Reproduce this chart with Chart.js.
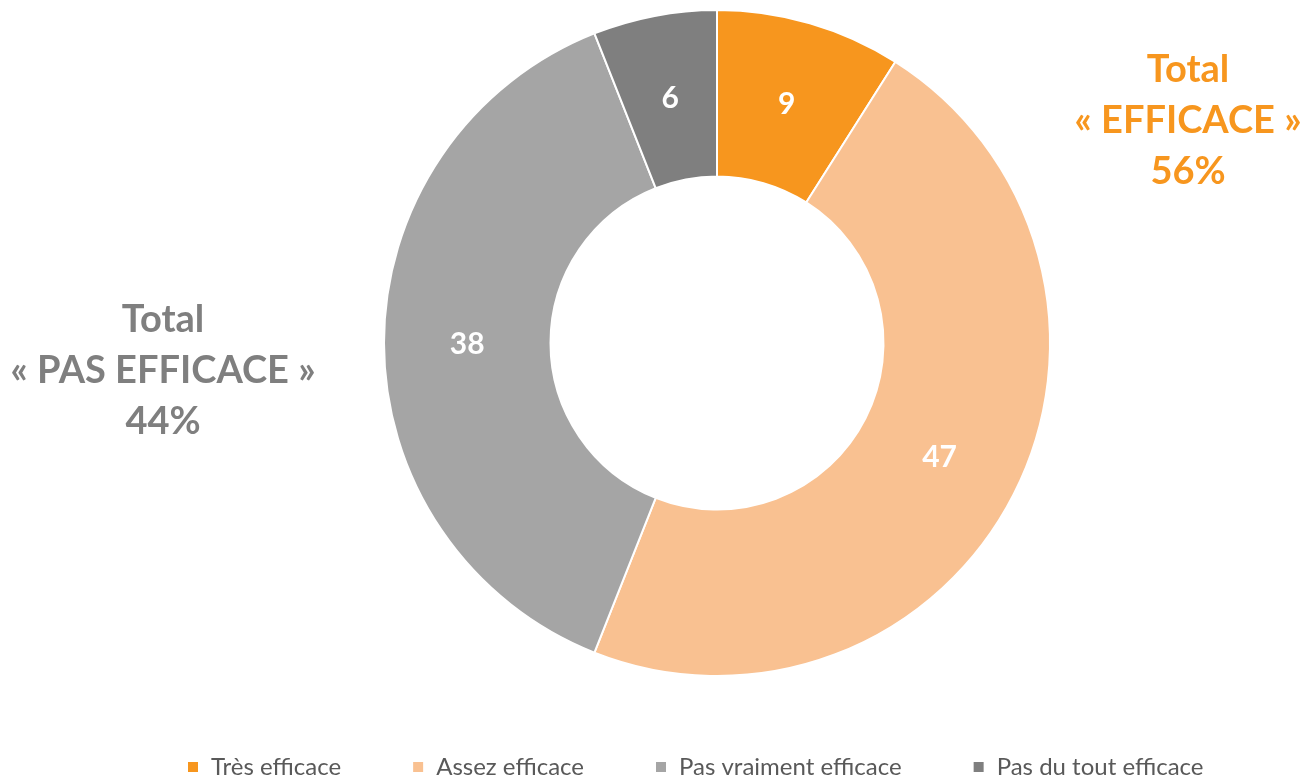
<!DOCTYPE html>
<html>
<head>
<meta charset="utf-8">
<script src="https://cdn.jsdelivr.net/npm/chart.js@4/dist/chart.umd.min.js"></script>
<style>
  html, body { margin: 0; padding: 0; background: #fff; overflow: hidden; }
  #wrap { position: relative; width: 1305px; height: 779px; overflow: hidden; }
  canvas { position: absolute; left: 0; top: 0; }
  .total { position: absolute; font-family: Lato, sans-serif; font-weight: 700; font-size: 38px; line-height: 51px; text-align: center; white-space: nowrap; }
  #tEff { color: #F7961E; left: 1038px; width: 300px; top: 42px; }
  #tPas { color: #7F7F7F; left: -2px; width: 330px; top: 292px; }
</style>
</head>
<body>
<div id="wrap">
  <canvas id="c" width="1318" height="789"></canvas>
  <div class="total" id="tEff">Total<br>« EFFICACE »<br>56%</div>
  <div class="total" id="tPas">Total<br>« PAS EFFICACE »<br>44%</div>
</div>
<script>
const categories = ["Très efficace", "Assez efficace", "Pas vraiment efficace", "Pas du tout efficace"];
const values = [9, 47, 38, 6];
const colors = ["#F7961E", "#F9C191", "#A5A5A5", "#7F7F7F"];

const legendFont = 24;
const legendGap = 71;
const legendHeight = 112;
const titleLine = 1.2;
const titlePadTop = legendHeight - legendFont - legendGap - 10 - titleLine;

const labelPlugin = {
  id: 'sliceLabels',
  afterDatasetsDraw(chart) {
    const ctx = chart.ctx;
    const meta = chart.getDatasetMeta(0);
    ctx.save();
    ctx.fillStyle = '#FFFFFF';
    ctx.font = '700 30px Lato, sans-serif';
    ctx.textAlign = 'center';
    ctx.textBaseline = 'middle';
    meta.data.forEach((arc, i) => {
      const p = arc.tooltipPosition();
      ctx.fillText(String(chart.data.datasets[0].data[i]), p.x, p.y + 1);
    });
    ctx.restore();
  }
};

new Chart(document.getElementById('c'), {
  type: 'doughnut',
  data: {
    labels: categories,
    datasets: [{
      data: values,
      backgroundColor: colors,
      borderColor: '#FFFFFF',
      borderWidth: 2
    }]
  },
  options: {
    responsive: false,
    animation: false,
    devicePixelRatio: 1,
    events: [],
    cutout: '50%',
    layout: { padding: { top: 9, left: 116, right: 0, bottom: 0 } },
    plugins: {
      tooltip: { enabled: false },
      legend: {
        position: 'bottom',
        align: 'start',
        title: { display: true, text: ' ', font: { size: 1, lineHeight: titleLine }, padding: { top: titlePadTop, bottom: 0 } },
        labels: {
          boxWidth: 12,
          boxHeight: 12,
          padding: legendGap,
          color: '#595959',
          font: { family: 'Lato, sans-serif', size: legendFont }
        }
      }
    }
  },
  plugins: [labelPlugin]
});
</script>
</body>
</html>
